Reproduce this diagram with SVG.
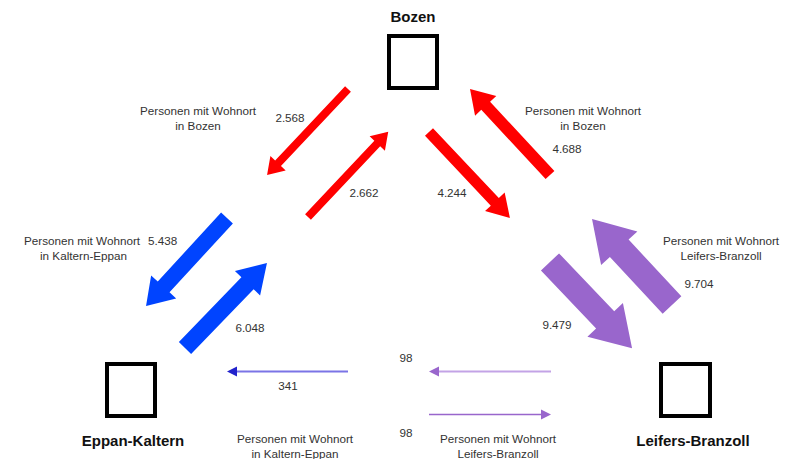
<svg xmlns="http://www.w3.org/2000/svg" width="791" height="459" viewBox="0 0 791 459">
<style>
.box{fill:none;stroke:#000;stroke-width:4}
.name{font-family:"Liberation Sans",Arial,sans-serif;font-size:15px;font-weight:bold;fill:#111;text-anchor:middle}
.lbl{font-family:"Liberation Sans",Arial,sans-serif;font-size:11.7px;fill:#333;text-anchor:middle}
.red{fill:#ff0000}
.blue{fill:#0044ff}
.purple{fill:#9966cc}
</style>
<rect width="791" height="459" fill="#fff"/>
<g id="node-bozen">
<rect class="box" x="389" y="36" width="48" height="52"/>
<text class="name" x="413" y="22">Bozen</text>
</g>
<g id="node-eppan">
<rect class="box" x="107" y="364" width="48" height="52"/>
<text class="name" x="133" y="446">Eppan-Kaltern</text>
</g>
<g id="node-leifers">
<rect class="box" x="661" y="364" width="49" height="52"/>
<text class="name" x="693" y="446">Leifers-Branzoll</text>
</g>
<g id="connectors">
<polygon class="red" transform="translate(348,89) rotate(133.3)" points="0,-4 102,-4 102,-10.5 118,0 102,10.5 102,4 0,4"/>
<polygon class="red" transform="translate(308,217) rotate(-46.7)" points="0,-4 101,-4 101,-10.5 117,0 101,10.5 101,4 0,4"/>
<polygon class="red" transform="translate(429,132) rotate(46.7)" points="0,-5.5 96,-5.5 96,-13.5 118,0 96,13.5 96,5.5 0,5.5"/>
<polygon class="red" transform="translate(550,175) rotate(-132.9)" points="0,-6 94.5,-6 94.5,-14.5 117.5,0 94.5,14.5 94.5,6 0,6"/>
<polygon class="blue" transform="translate(227,218) rotate(132.6)" points="0,-8 93.6,-8 93.6,-17 119.6,0 93.6,17 93.6,8 0,8"/>
<polygon class="blue" transform="translate(185,348) rotate(-46)" points="0,-8.5 90,-8.5 90,-17.5 118,0 90,17.5 90,8.5 0,8.5"/>
<polygon class="purple" transform="translate(550,262) rotate(46.4)" points="0,-12.5 80,-12.5 80,-24.5 119,0 80,24.5 80,12.5 0,12.5"/>
<polygon class="purple" transform="translate(672,305) rotate(-132.9)" points="0,-12.75 77.5,-12.75 77.5,-24.75 117.5,0 77.5,24.75 77.5,12.75 0,12.75"/>
<line x1="348" y1="371.5" x2="236" y2="371.5" stroke="#7b74e6" stroke-width="2"/>
<polygon points="227,371.5 237,366.5 237,376.5" fill="#2222cc"/>
<line x1="551" y1="371.5" x2="438" y2="371.5" stroke="#c3a3e6" stroke-width="2"/>
<polygon points="429,371.5 439,366.5 439,376.5" fill="#9966cc"/>
<line x1="429" y1="414.5" x2="542" y2="414.5" stroke="#9966cc" stroke-width="1.5"/>
<polygon points="551,414.5 541,409.5 541,419.5" fill="#9966cc"/>
</g>
<g id="labels">
<text class="lbl" x="198" y="115">Personen mit Wohnort</text>
<text class="lbl" x="198" y="130">in Bozen</text>
<text class="lbl" x="290" y="122">2.568</text>
<text class="lbl" x="364" y="197">2.662</text>
<text class="lbl" x="583" y="115">Personen mit Wohnort</text>
<text class="lbl" x="583" y="130">in Bozen</text>
<text class="lbl" x="567" y="153">4.688</text>
<text class="lbl" x="452" y="197">4.244</text>
<text class="lbl" x="24" y="245" style="text-anchor:start">Personen mit Wohnort</text>
<text class="lbl" x="148" y="245" style="text-anchor:start">5.438</text>
<text class="lbl" x="40" y="260" style="text-anchor:start">in Kaltern-Eppan</text>
<text class="lbl" x="250" y="332">6.048</text>
<text class="lbl" x="721" y="245">Personen mit Wohnort</text>
<text class="lbl" x="721" y="260">Leifers-Branzoll</text>
<text class="lbl" x="699" y="288">9.704</text>
<text class="lbl" x="557" y="329">9.479</text>
<text class="lbl" x="288" y="390">341</text>
<text class="lbl" x="406" y="362">98</text>
<text class="lbl" x="406" y="437">98</text>
<text class="lbl" x="295" y="443">Personen mit Wohnort</text>
<text class="lbl" x="295" y="458">in Kaltern-Eppan</text>
<text class="lbl" x="498" y="443">Personen mit Wohnort</text>
<text class="lbl" x="498" y="458">Leifers-Branzoll</text>
</g>
</svg>
